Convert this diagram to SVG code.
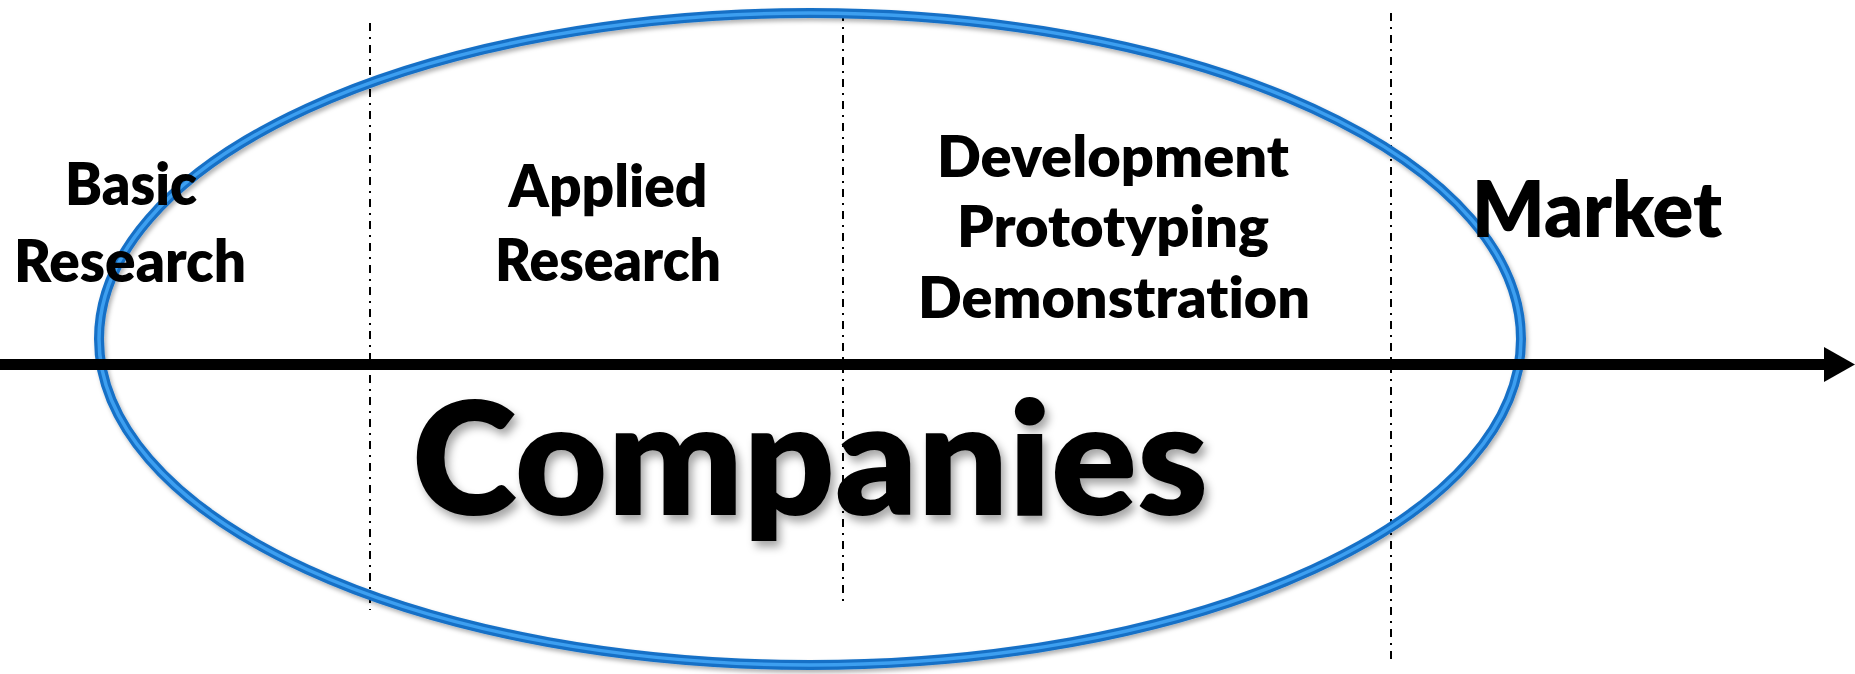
<svg xmlns="http://www.w3.org/2000/svg" width="1855" height="674" viewBox="0 0 1855 674">
<style>
.lbl{font-family:Lato,"Open Sans","Liberation Sans",sans-serif;font-weight:800;fill:#000;text-anchor:middle;font-variant-ligatures:none;font-feature-settings:"liga" 0,"clig" 0}
.sep{stroke:#000;stroke-width:2;stroke-dasharray:8 6 2 6;fill:none}
</style>
<defs>
<filter id="sh" x="-10%" y="-10%" width="120%" height="130%">
<feDropShadow dx="4" dy="6" stdDeviation="4" flood-color="#000" flood-opacity="0.35"/>
</filter>
<filter id="esh" x="-5%" y="-5%" width="110%" height="115%">
<feDropShadow dx="2" dy="3" stdDeviation="2" flood-color="#000" flood-opacity="0.3"/>
</filter>
<marker id="ah" markerUnits="userSpaceOnUse" viewBox="0 0 31 35" markerWidth="31" markerHeight="35" refX="2" refY="17.5" orient="auto" overflow="visible">
<polygon points="0,0 31,17.5 0,35" fill="#000"/>
</marker>
</defs>
<rect width="1855" height="674" fill="#fff"/>
<g id="separators">
<line class="sep" x1="370" y1="23" x2="370" y2="610"/>
<line class="sep" x1="843" y1="13" x2="843" y2="601"/>
<line class="sep" x1="1391" y1="13" x2="1391" y2="659"/>
</g>
<g id="companies-ellipse">
<ellipse cx="810" cy="339" rx="711" ry="326" fill="none" stroke="#1670c6" stroke-width="10" filter="url(#esh)"/>
<ellipse cx="810" cy="339" rx="711" ry="326" fill="none" stroke="#3d9ff0" stroke-width="3.5"/>
</g>
<g id="connectors">
<line x1="0" y1="364.5" x2="1826" y2="364.5" stroke="#000" stroke-width="11" marker-end="url(#ah)"/>
</g>
<g id="basic-research">
<text class="lbl" x="131" y="205" font-size="58" textLength="132" lengthAdjust="spacingAndGlyphs">Basic</text>
<text class="lbl" x="130" y="282" font-size="58" textLength="232" lengthAdjust="spacingAndGlyphs">Research</text>
</g>
<g id="applied-research">
<text class="lbl" x="608" y="207" font-size="58" textLength="199" lengthAdjust="spacingAndGlyphs">Applied</text>
<text class="lbl" x="608" y="281" font-size="58" textLength="226" lengthAdjust="spacingAndGlyphs">Research</text>
</g>
<g id="development">
<text class="lbl" x="1113" y="177" font-size="56" textLength="352" lengthAdjust="spacingAndGlyphs">Development</text>
<text class="lbl" x="1113" y="247" font-size="56" textLength="312" lengthAdjust="spacingAndGlyphs">Prototyping</text>
<text class="lbl" x="1114" y="318" font-size="56" textLength="392" lengthAdjust="spacingAndGlyphs">Demonstration</text>
</g>
<g id="market">
<text class="lbl" x="1597" y="237" font-size="77" textLength="250" lengthAdjust="spacingAndGlyphs">Market</text>
</g>
<g id="companies">
<text class="lbl" x="810" y="515" font-size="158" textLength="796" lengthAdjust="spacingAndGlyphs" filter="url(#sh)">Companies</text>
</g>
</svg>
